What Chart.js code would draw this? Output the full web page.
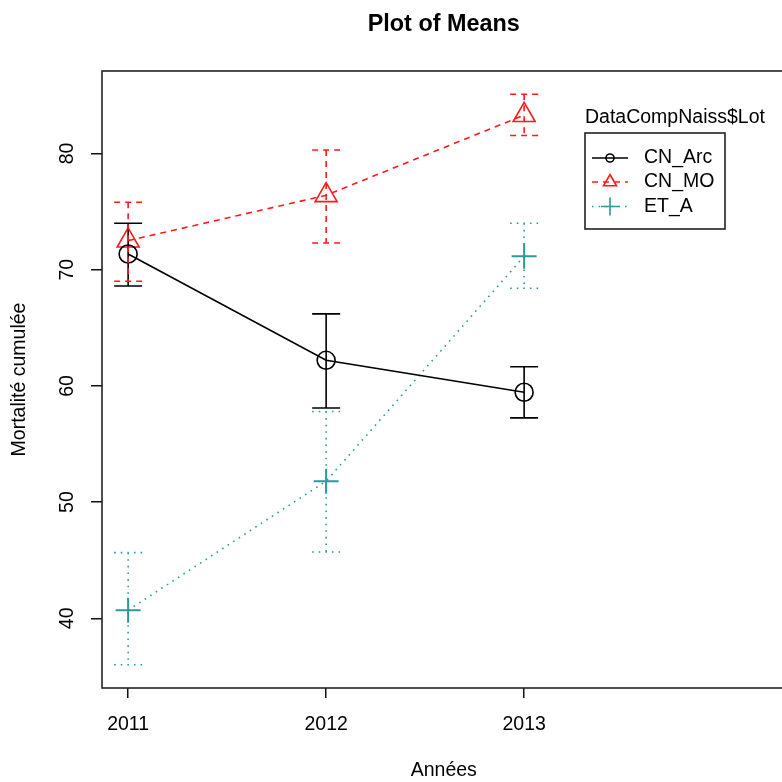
<!DOCTYPE html>
<html>
<head>
<meta charset="utf-8">
<script src="https://cdn.jsdelivr.net/npm/chart.js@4/dist/chart.umd.min.js"></script>
<style>
  html, body { margin:0; padding:0; background:#fff; }
  #frame { width:782px; height:782px; overflow:hidden; position:relative; }
  #wrap { width:800px; height:782px; position:absolute; left:0; top:0; }
</style>
</head>
<body>
<div id="frame"><div id="wrap"><canvas id="c" width="800" height="782"></canvas></div></div>
<script>
// ---- data ----
const years = [2011, 2012, 2013];
const seriesNames = ["CN_Arc", "CN_MO", "ET_A"];
const cnArcMean  = [71.35, 62.2, 59.45];
const cnArcUpper = [74.0, 66.2, 61.65];
const cnArcLower = [68.6, 58.1, 57.25];
const cnMoMean   = [72.5, 76.4, 83.3];
const cnMoUpper  = [75.8, 80.3, 85.1];
const cnMoLower  = [69.0, 72.3, 81.55];
const etAMean    = [40.7, 51.8, 71.15];
const etAUpper   = [45.65, 57.8, 74.0];
const etALower   = [36.0, 45.7, 68.4];
const xTicks = [2011, 2012, 2013];
const yTicks = [40, 50, 60, 70, 80];

const FONT = "'Liberation Sans', Arial, sans-serif";
const RED = "#FF1A1A";
const TEAL = "#2A9A9A";
const BLACK = "#000000";

const errorLows = [cnArcLower, cnMoLower, etALower];
const errorHighs = [cnArcUpper, cnMoUpper, etAUpper];

function pts(means) { return years.map((yr, i) => ({ x: yr, y: means[i] })); }

const styles = [
  { color: BLACK, dash: [], pointStyle: 'circle', radius: 9, legendRadius: 4 },
  { color: RED, dash: [6, 5], pointStyle: 'triangle', radius: 12.7, legendRadius: 7.5 },
  { color: TEAL, dash: [1.6, 5], pointStyle: 'cross', radius: 12.5, legendRadius: 9 }
];

const errorBars = {
  id: 'errorBars',
  afterDatasetsDraw(chart) {
    const ctx = chart.ctx, xs = chart.scales.x, ys = chart.scales.y;
    chart.data.datasets.forEach((ds, di) => {
      const st = styles[di];
      ctx.save();
      ctx.strokeStyle = st.color;
      ctx.lineWidth = 1.6;
      ctx.setLineDash(st.dash);
      years.forEach((yr, i) => {
        const px = xs.getPixelForValue(yr);
        const pLo = ys.getPixelForValue(errorLows[di][i]);
        const pHi = ys.getPixelForValue(errorHighs[di][i]);
        const cap = 14;
        ctx.beginPath();
        ctx.moveTo(px, pHi); ctx.lineTo(px, pLo);
        ctx.moveTo(px - cap, pHi); ctx.lineTo(px + cap, pHi);
        ctx.moveTo(px - cap, pLo); ctx.lineTo(px + cap, pLo);
        ctx.stroke();
      });
      ctx.restore();
    });
  }
};

const boxAndLegend = {
  id: 'boxAndLegend',
  afterDraw(chart) {
    const ctx = chart.ctx, a = chart.chartArea;
    ctx.save();
    ctx.strokeStyle = '#222';
    ctx.lineWidth = 1.6;
    ctx.setLineDash([]);
    ctx.strokeRect(a.left, a.top, a.right - a.left, a.bottom - a.top);
    // legend
    const lx = 585, ly = 133, lw = 140, lh = 96;
    ctx.fillStyle = '#000';
    ctx.font = "19.5px " + FONT;
    ctx.textBaseline = 'middle';
    ctx.textAlign = 'left';
    ctx.fillText("DataCompNaiss$Lot", lx, 118);
    ctx.strokeStyle = '#222';
    ctx.strokeRect(lx, ly, lw, lh);
    const rows = [158, 182, 206.5];
    seriesNames.forEach((name, i) => {
      const st = styles[i];
      const y = rows[i];
      ctx.save();
      ctx.strokeStyle = st.color;
      ctx.lineWidth = 1.6;
      ctx.setLineDash(st.dash);
      ctx.beginPath(); ctx.moveTo(592, y); ctx.lineTo(628, y); ctx.stroke();
      ctx.setLineDash([]);
      ctx.fillStyle = 'rgba(0,0,0,0)';
      Chart.helpers.drawPoint(ctx, { pointStyle: st.pointStyle, radius: st.legendRadius, borderWidth: 1.6 }, 610, y);
      ctx.fillStyle = '#000';
      ctx.fillText(name, 644, y);
      ctx.restore();
    });
    ctx.restore();
  }
};

const datasets = [cnArcMean, cnMoMean, etAMean].map((m, i) => ({
  label: seriesNames[i],
  data: pts(m),
  borderColor: styles[i].color,
  borderWidth: 1.6,
  borderDash: styles[i].dash,
  pointStyle: styles[i].pointStyle,
  pointRadius: styles[i].radius,
  pointBorderColor: styles[i].color,
  pointBackgroundColor: 'rgba(0,0,0,0)',
  pointBorderWidth: i === 2 ? 2 : 1.6,
  showLine: true,
  fill: false,
  tension: 0
}));

new Chart(document.getElementById('c'), {
  type: 'scatter',
  data: { datasets },
  plugins: [errorBars, boxAndLegend],
  options: {
    responsive: false,
    animation: false,
    devicePixelRatio: 1,
    layout: { padding: { left: 0, right: 12, top: 0, bottom: 0 } },
    plugins: {
      legend: { display: false },
      tooltip: { enabled: false },
      title: {
        display: true,
        text: 'Plot of Means',
        fullSize: false,
        color: '#000',
        font: { family: FONT, size: 23.4, weight: 'bold', lineHeight: 1.2 },
        padding: { top: 11, bottom: 31.9 }
      }
    },
    scales: {
      x: {
        type: 'linear',
        min: 2010.868,
        max: 2014.32,
        afterBuildTicks(s) { s.ticks = xTicks.map(v => ({ value: v })); },
        afterFit(s) { s.height = 94; },
        border: { display: false },
        grid: { display: true, drawOnChartArea: false, drawTicks: true, tickLength: 10, color: '#111', lineWidth: 1.5 },
        ticks: {
          color: '#000', padding: 15, maxRotation: 0, minRotation: 0,
          font: { family: FONT, size: 19.5, lineHeight: 1.2 },
          callback: v => String(v)
        },
        title: {
          display: true, text: 'Années', color: '#000',
          font: { family: FONT, size: 19.5, lineHeight: 1.2 },
          padding: { top: 0, bottom: 0 }
        }
      },
      y: {
        type: 'linear',
        min: 34.0,
        max: 87.1,
        afterBuildTicks(s) { s.ticks = yTicks.map(v => ({ value: v })); },
        afterFit(s) { s.width = 102; },
        border: { display: false },
        grid: { display: true, drawOnChartArea: false, drawTicks: true, tickLength: 11, color: '#111', lineWidth: 1.5 },
        ticks: {
          color: '#000', padding: 13, minRotation: 90, maxRotation: 90, crossAlign: 'center',
          font: { family: FONT, size: 19.5, lineHeight: 1.2 },
          callback: v => String(v)
        },
        title: {
          display: true, text: 'Mortalité cumulée', color: '#000',
          font: { family: FONT, size: 19.5, lineHeight: 1.2 },
          padding: { top: 8.3, bottom: 0 }
        }
      }
    }
  }
});
</script>
</body>
</html>
